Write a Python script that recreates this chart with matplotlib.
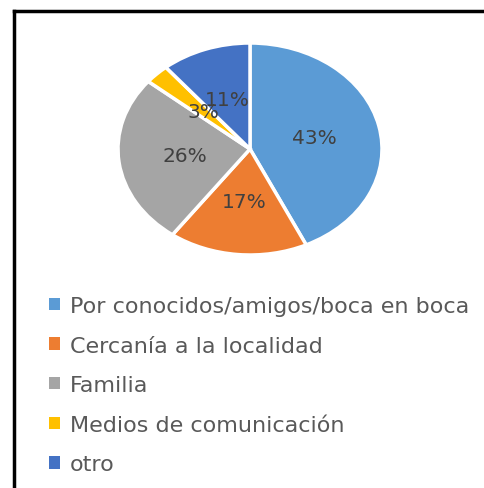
import matplotlib.pyplot as plt
from matplotlib.patches import Rectangle
from matplotlib.lines import Line2D

categories = ["Por conocidos/amigos/boca en boca", "Cercanía a la localidad",
              "Familia", "Medios de comunicación", "otro"]
values = [43, 17, 26, 3, 11]
colors = ["#5B9BD5", "#ED7D31", "#A5A5A5", "#FFC000", "#4472C4"]

plt.rcParams['font.family'] = ['DejaVu Sans']

W, H = 485, 489
fig = plt.figure(figsize=(W / 100, H / 100), dpi=100)

# pie is drawn as an ellipse, so use a non-square axes with auto aspect
cx, cy, rx, ry = 250, 150, 132, 106
ax = fig.add_axes([(cx - rx) / W, 1 - (cy + ry) / H, 2 * rx / W, 2 * ry / H])
wedges, texts, autotexts = ax.pie(
    values, colors=colors, startangle=90, counterclock=False,
    autopct="%1.0f%%", pctdistance=0.5,
    wedgeprops=dict(edgecolor="white", linewidth=2.5),
    textprops=dict(color="#404040", fontsize=14.5))
ax.set_aspect("auto")
ax.set_xlim(-1, 1)
ax.set_ylim(-1, 1)

# frame border (top, left, right cut off at image edge)
fig.add_artist(Line2D([14 / W, 14 / W], [0, 1 - 12 / H], transform=fig.transFigure,
                      color="black", linewidth=2.5))
fig.add_artist(Line2D([14 / W, 1], [1 - 12 / H, 1 - 12 / H], transform=fig.transFigure,
                      color="black", linewidth=2.5))

handles = [Rectangle((0, 0), 1, 1, facecolor=c) for c in colors]
leg = fig.legend(handles, categories, loc="upper left",
                 bbox_to_anchor=(29 / W, 1 - 277 / H), frameon=False,
                 handlelength=0.48, handleheight=0.48, handletextpad=0.45,
                 labelspacing=0.88, fontsize=16, labelcolor="#595959")

fig.savefig("out.png", dpi=100)
